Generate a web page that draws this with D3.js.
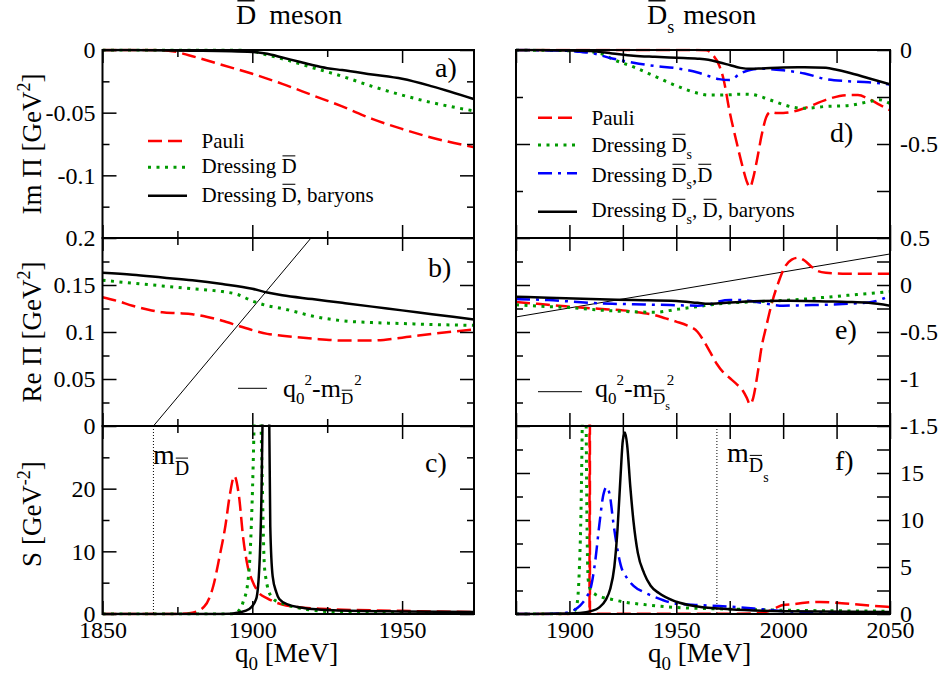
<!DOCTYPE html>
<html>
<head>
<meta charset="utf-8">
<script src="https://cdn.jsdelivr.net/npm/d3@7"></script>
<style>
  body { margin: 0; background: #fff; }
  svg { font-family: "Liberation Serif", "DejaVu Serif", serif; }
</style>
</head>
<body>
<svg id="chart" width="942" height="684"></svg>
<script>
// ---- data (q0 in MeV) ----
// D-bar meson, panel a: Im Pi [GeV^2]
const imPauliD = [[1850,0],[1865,0],[1872,-0.0005],[1880,-0.005],[1890,-0.012],[1900,-0.019],[1910,-0.027],[1920,-0.036],[1930,-0.045],[1940,-0.055],[1950,-0.063],[1960,-0.070],[1975,-0.078]];
const imDressD = [[1850,0],[1895,0],[1900,-0.001],[1905,-0.004],[1910,-0.007],[1920,-0.014],[1930,-0.021],[1940,-0.029],[1950,-0.036],[1960,-0.042],[1975,-0.049]];
const imFullD = [[1850,0],[1880,-0.0005],[1900,-0.0015],[1905,-0.003],[1910,-0.006],[1915,-0.009],[1920,-0.012],[1925,-0.0145],[1930,-0.016],[1940,-0.0195],[1950,-0.023],[1960,-0.029],[1975,-0.040]];
// panel b: Re Pi [GeV^2]
const rePauliD = [[1850,0.137],[1855,0.133],[1860,0.128],[1865,0.124],[1870,0.121],[1875,0.120],[1880,0.119],[1885,0.116],[1890,0.112],[1895,0.107],[1900,0.102],[1905,0.098],[1910,0.096],[1920,0.093],[1930,0.091],[1940,0.091],[1950,0.094],[1960,0.098],[1975,0.103]];
const reDressD = [[1850,0.155],[1860,0.152],[1870,0.149],[1880,0.146],[1890,0.143],[1895,0.140],[1900,0.133],[1905,0.128],[1910,0.125],[1915,0.121],[1920,0.117],[1930,0.112],[1940,0.110],[1950,0.109],[1960,0.108],[1975,0.107]];
const reFullD = [[1850,0.163],[1860,0.161],[1870,0.158],[1880,0.155],[1890,0.151],[1900,0.146],[1905,0.142],[1910,0.139],[1920,0.135],[1930,0.131],[1940,0.127],[1950,0.123],[1960,0.119],[1975,0.113]];
const freeD = [[1867,0],[1919.6,0.2]];
// panel c: S [GeV^-2]
const sPauliD = [[1850,0],[1875,0],[1880,0.2],[1884,1.2],[1887,4.5],[1889,9],[1891,14],[1892.5,19],[1894,22],[1895.5,19],[1897,12],[1898.5,7.5],[1900,5.3],[1902,3.5],[1905,2.5],[1910,1.5],[1915,1.1],[1925,0.8],[1950,0.5],[1975,0.3]];
const sDressD = [[1850,0],[1893,0],[1895,0.3],[1897,2],[1898.5,5],[1899.5,12],[1900.3,24],[1901,40],[1901.7,60],[1902.5,40],[1903.2,24],[1904,8],[1904.6,5.5],[1905,4.5],[1907,2.4],[1910,1.7],[1915,1.0],[1920,0.6],[1930,0.3],[1975,0.1]];
const sFullD = [[1850,0],[1890,0],[1896,0.3],[1899,0.8],[1901.3,2.4],[1902.4,8],[1903.1,20],[1903.7,40],[1904.6,80],[1905.5,40],[1906,14],[1906.8,6],[1908,3.5],[1909,2.4],[1912,1.5],[1916,1.05],[1920,0.8],[1927,0.6],[1950,0.4],[1975,0.3]];
const massD = 1867;

// D_s-bar meson, panel d: Im Pi
const imPauliDs = [[1875,0],[1900,0],[1920,0],[1940,0],[1960,0],[1964,-0.002],[1967,-0.025],[1970,-0.08],[1972,-0.15],[1975,-0.33],[1978,-0.48],[1981,-0.62],[1983,-0.7],[1984.5,-0.73],[1986,-0.68],[1988,-0.57],[1990,-0.45],[1992,-0.36],[1994,-0.33],[1997,-0.335],[2000,-0.335],[2010,-0.31],[2020,-0.265],[2030,-0.24],[2035,-0.24],[2040,-0.26],[2045,-0.29],[2050,-0.32]];
const imDressDs = [[1875,0],[1890,-0.002],[1900,-0.004],[1905,-0.006],[1910,-0.01],[1915,-0.02],[1920,-0.048],[1930,-0.09],[1940,-0.14],[1950,-0.19],[1960,-0.23],[1965,-0.24],[1970,-0.24],[1975,-0.238],[1980,-0.235],[1985,-0.236],[1990,-0.25],[1995,-0.27],[2000,-0.29],[2005,-0.305],[2010,-0.31],[2020,-0.3],[2030,-0.296],[2040,-0.275],[2045,-0.265],[2050,-0.285]];
const imDress2Ds = [[1875,0],[1890,-0.002],[1900,-0.005],[1905,-0.01],[1910,-0.016],[1920,-0.045],[1930,-0.068],[1940,-0.085],[1950,-0.097],[1960,-0.12],[1965,-0.138],[1970,-0.155],[1975,-0.16],[1980,-0.125],[1985,-0.105],[1990,-0.1],[2000,-0.108],[2010,-0.125],[2020,-0.155],[2030,-0.166],[2040,-0.172],[2050,-0.183]];
const imFullDs = [[1875,0],[1900,-0.002],[1910,-0.006],[1920,-0.018],[1930,-0.03],[1940,-0.036],[1950,-0.041],[1960,-0.046],[1965,-0.052],[1970,-0.065],[1975,-0.08],[1980,-0.095],[1985,-0.1],[1990,-0.098],[2000,-0.093],[2010,-0.092],[2020,-0.095],[2025,-0.105],[2030,-0.118],[2040,-0.15],[2050,-0.183]];
// panel e: Re Pi
const rePauliDs = [[1875,-0.18],[1885,-0.2],[1895,-0.22],[1905,-0.24],[1915,-0.255],[1925,-0.27],[1935,-0.3],[1940,-0.32],[1945,-0.355],[1950,-0.39],[1955,-0.43],[1960,-0.5],[1963,-0.6],[1966,-0.72],[1969,-0.84],[1972,-0.93],[1975,-0.99],[1978,-1.05],[1981,-1.12],[1983,-1.2],[1984.5,-1.27],[1986,-1.2],[1988,-0.95],[1990,-0.65],[1992,-0.45],[1995,-0.17],[1998,0.04],[2001,0.2],[2004,0.27],[2007,0.29],[2010,0.26],[2013,0.2],[2016,0.15],[2020,0.13],[2030,0.12],[2040,0.12],[2050,0.12]];
const reDressDs = [[1875,-0.21],[1890,-0.23],[1900,-0.24],[1910,-0.26],[1920,-0.275],[1930,-0.285],[1940,-0.29],[1950,-0.26],[1960,-0.23],[1970,-0.2],[1980,-0.185],[1990,-0.175],[2000,-0.165],[2010,-0.15],[2020,-0.13],[2030,-0.11],[2040,-0.09],[2050,-0.07]];
const reDress2Ds = [[1875,-0.15],[1890,-0.16],[1900,-0.175],[1910,-0.19],[1920,-0.2],[1930,-0.205],[1940,-0.21],[1950,-0.215],[1960,-0.22],[1965,-0.21],[1970,-0.175],[1975,-0.16],[1980,-0.16],[1985,-0.17],[1990,-0.19],[1995,-0.21],[2000,-0.22],[2010,-0.215],[2020,-0.21],[2030,-0.2],[2040,-0.185],[2045,-0.16],[2050,-0.11]];
const reFullDs = [[1875,-0.125],[1890,-0.135],[1910,-0.15],[1930,-0.16],[1950,-0.17],[1960,-0.19],[1965,-0.2],[1970,-0.195],[1980,-0.18],[1990,-0.17],[2000,-0.168],[2010,-0.17],[2020,-0.175],[2030,-0.18],[2040,-0.19],[2050,-0.22]];
const freeDs = [[1875,-0.34],[2050,0.33]];
// panel f: S
const sPauliDs = [[1875,0],[1909.4,0.02],[1909.5,400],[1909.6,0.02],[1960,0.02],[1985,0.05],[1993,0.3],[1997,0.7],[2000,0.95],[2005,1.05],[2010,1.2],[2017,1.28],[2025,1.2],[2035,1.0],[2050,0.75]];
const sDressDs = [[1875,0],[1895,0],[1900,0.05],[1902,0.2],[1903.5,1],[1904.5,4],[1905.5,12],[1906.5,30],[1907,40],[1907.5,30],[1908.3,8],[1908.8,3.6],[1910,2.5],[1912,2.1],[1915,1.8],[1920,1.55],[1925,1.3],[1935,1.0],[1950,0.7],[1970,0.55],[1990,0.45],[2000,0.4],[2020,0.35],[2050,0.3]];
const sDress2Ds = [[1875,0],[1890,0],[1898,0.1],[1902,0.4],[1905,0.9],[1908,1.8],[1910,2.8],[1912,5.5],[1914,9.5],[1915.8,12.6],[1917.4,13.5],[1919,12.5],[1920.5,9.8],[1922,7.5],[1924,5.2],[1927,3.8],[1930,3.0],[1935,2.3],[1940,1.8],[1950,1.1],[1960,0.95],[1970,0.85],[1980,0.7],[1990,0.5],[2000,0.3],[2010,0.2],[2030,0.15],[2050,0.15]];
const sFullDs = [[1875,0],[1900,0.05],[1905,0.1],[1910,0.3],[1914,0.7],[1917,1.5],[1919,2.6],[1921,5],[1922.5,9],[1924,15],[1925,18.5],[1926,19.3],[1927,18],[1928.5,13.5],[1930,9.8],[1932,6.5],[1935,4.3],[1938,3],[1942,2.2],[1950,1.3],[1960,0.8],[1975,0.5],[2000,0.3],[2050,0.2]];
const massDs = 1969;

// tick values
const xTicksLeft = [1850, 1900, 1950], xMinorLeft = [1875, 1925];
const xTicksRight = [1900, 1950, 2000, 2050], xMinorRight = [1875, 1925, 1975, 2025];

// ---- layout ----
const svg = d3.select("#chart");
const FONT = "'Liberation Serif', 'DejaVu Serif', serif";
const rows = [[50, 238], [238, 426], [426, 614]];
const colL = [102.5, 474], colR = [516, 890];

const st = {
  pauli: {stroke: "#ff0000", width: 2.5, dash: "14,6"},
  dress: {stroke: "#009a00", width: 3, dash: "3,5.5"},
  dress2: {stroke: "#0000ff", width: 2.5, dash: "14,6,3,6"},
  full: {stroke: "#000000", width: 2.5, dash: null},
  free: {stroke: "#000000", width: 1, dash: null},
  mass: {stroke: "#000000", width: 1, dash: "1,2"}
};

function styled(sel, s) {
  sel.attr("fill", "none").attr("stroke", s.stroke).attr("stroke-width", s.width);
  if (s.dash) sel.attr("stroke-dasharray", s.dash);
  return sel;
}

// text with sub/superscripts and overbars
function rich(g, x, y, size, parts, anchor) {
  const t = g.append("text").attr("x", x).attr("y", y).attr("font-size", size)
    .attr("font-family", FONT).attr("fill", "#000").style("white-space", "pre");
  if (anchor) t.attr("text-anchor", anchor);
  let cur = 0, idx = 0;
  const bars = [];
  parts.forEach(p => {
    const sh = p.sh || 0;
    const ts = t.append("tspan").text(p.t);
    if (p.sz) ts.attr("font-size", p.sz);
    if (sh !== cur) ts.attr("dy", sh - cur);
    if (p.dx) ts.attr("dx", p.dx);
    cur = sh;
    if (p.bar) bars.push({i: idx, sh, sz: p.sz || size});
    idx += p.t.length;
  });
  bars.forEach(b => {
    const e = t.node().getExtentOfChar(b.i);
    const yy = y + b.sh - b.sz * 0.83;
    g.append("line").attr("x1", e.x + b.sz * 0.05).attr("x2", e.x + e.width - b.sz * 0.06)
      .attr("y1", yy).attr("y2", yy).attr("stroke", "#000").attr("stroke-width", Math.max(1, b.sz * 0.05));
  });
  return t;
}

function axis(g, gen, tr, values, len, labelled, pad) {
  gen.tickValues(values).tickSize(-len).tickSizeOuter(0).tickPadding(pad || 7)
    .tickFormat(labelled ? (d => String(d)) : "");
  const ag = g.append("g").attr("transform", tr).call(gen);
  ag.attr("font-family", FONT).attr("font-size", 24);
  ag.select(".domain").remove();
  ag.selectAll("line").attr("stroke", "#000").attr("stroke-width", 1.5);
  ag.selectAll("text").attr("fill", "#000");
}

function panel(p) {
  const [x0, x1] = p.col, [y0, y1] = rows[p.row];
  const x = d3.scaleLinear().domain(p.xDomain).range([x0, x1]);
  const y = d3.scaleLinear().domain(p.yDomain).range([y1, y0]);
  const g = svg.append("g");
  const clipId = "clip-" + p.name;
  svg.append("clipPath").attr("id", clipId).append("rect")
    .attr("x", x0).attr("y", y0 - 1.5).attr("width", x1 - x0).attr("height", y1 - y0 + 3);
  const line = d3.line().x(d => x(d[0])).y(d => y(d[1])).curve(d3.curveMonotoneX);
  const cg = g.append("g").attr("clip-path", `url(#${clipId})`);
  if (p.mass) {
    styled(cg.append("line"), st.mass)
      .attr("x1", x(p.mass)).attr("x2", x(p.mass)).attr("y1", y0).attr("y2", y1);
  }
  p.series.forEach(s => {
    styled(cg.append("path").datum(s.data), s.style).attr("d", line);
  });

  // ticks, all pointing inwards
  const right = p.col === colR;
  const xMaj = right ? xTicksRight : xTicksLeft, xMin = right ? xMinorRight : xMinorLeft;
  const xMinLen = right ? 13 : 7;
  axis(g, d3.axisBottom(x), `translate(0,${y1})`, xMaj, 13, p.row === 2, 7);
  axis(g, d3.axisBottom(x), `translate(0,${y1})`, xMin, xMinLen, false);
  axis(g, d3.axisTop(x), `translate(0,${y0})`, xMaj, 13, false);
  axis(g, d3.axisTop(x), `translate(0,${y0})`, xMin, xMinLen, false);
  axis(g, d3.axisLeft(y), `translate(${x0},0)`, p.yMajor, 14, !right, 7);
  axis(g, d3.axisLeft(y), `translate(${x0},0)`, p.yMinor, 7, false);
  axis(g, d3.axisRight(y), `translate(${x1},0)`, p.yMajor, right ? 13 : 14, right, 10);
  axis(g, d3.axisRight(y), `translate(${x1},0)`, p.yMinor, right ? 13 : 7, false);

  g.append("rect").attr("x", x0).attr("y", y0).attr("width", x1 - x0).attr("height", y1 - y0)
    .attr("fill", "none").attr("stroke", "#000").attr("stroke-width", 2);
  g.append("text").attr("x", p.tag[1]).attr("y", p.tag[2]).attr("font-size", 28)
    .attr("font-family", FONT).text(p.tag[0]);
  return g;
}

const xDomL = [1850, 1974], xDomR = [1875, 2050];

panel({name: "a", col: colL, row: 0, xDomain: xDomL, yDomain: [-0.15, 0],
  yMajor: [0, -0.05, -0.1], yMinor: [-0.025, -0.075, -0.125], tag: ["a)", 435, 77],
  series: [{data: imPauliD, style: st.pauli}, {data: imDressD, style: st.dress}, {data: imFullD, style: st.full}]});
panel({name: "b", col: colL, row: 1, xDomain: xDomL, yDomain: [0, 0.2],
  yMajor: [0.2, 0.15, 0.1, 0.05, 0], yMinor: [0.175, 0.125, 0.075, 0.025], tag: ["b)", 428, 277],
  series: [{data: freeD, style: st.free}, {data: rePauliD, style: st.pauli}, {data: reDressD, style: st.dress}, {data: reFullD, style: st.full}]});
panel({name: "c", col: colL, row: 2, xDomain: xDomL, yDomain: [0, 30], mass: massD,
  yMajor: [0, 10, 20], yMinor: [5, 15, 25], tag: ["c)", 425, 472],
  series: [{data: sPauliD, style: st.pauli}, {data: sDressD, style: st.dress}, {data: sFullD, style: st.full}]});
panel({name: "d", col: colR, row: 0, xDomain: xDomR, yDomain: [-1, 0],
  yMajor: [0, -0.5], yMinor: [-0.25, -0.75], tag: ["d)", 830, 142],
  series: [{data: imPauliDs, style: st.pauli}, {data: imDressDs, style: st.dress}, {data: imDress2Ds, style: st.dress2}, {data: imFullDs, style: st.full}]});
panel({name: "e", col: colR, row: 1, xDomain: xDomR, yDomain: [-1.5, 0.5],
  yMajor: [0.5, 0, -0.5, -1, -1.5], yMinor: [0.25, -0.25, -0.75, -1.25], tag: ["e)", 835, 339],
  series: [{data: freeDs, style: st.free}, {data: rePauliDs, style: st.pauli}, {data: reDressDs, style: st.dress}, {data: reDress2Ds, style: st.dress2}, {data: reFullDs, style: st.full}]});
panel({name: "f", col: colR, row: 2, xDomain: xDomR, yDomain: [0, 20], mass: massDs,
  yMajor: [0, 5, 10, 15], yMinor: [2.5, 7.5, 12.5, 17.5], tag: ["f)", 835, 470],
  series: [{data: sPauliDs, style: st.pauli}, {data: sDressDs, style: st.dress}, {data: sDress2Ds, style: st.dress2}, {data: sFullDs, style: st.full}]});

// ---- legends ----
const ann = svg.append("g");
function legendLine(x1, x2, y, s) {
  styled(ann.append("line"), s).attr("x1", x1).attr("x2", x2).attr("y1", y).attr("y2", y);
}
// panel a
legendLine(148, 187, 141, st.pauli);
rich(ann, 201.5, 148.3, 21, [{t: "Pauli"}]);
legendLine(148, 187, 167.3, st.dress);
rich(ann, 201.5, 173.3, 21, [{t: "Dressing "}, {t: "D", bar: true}]);
legendLine(148, 187, 195.7, st.full);
rich(ann, 201.5, 201.7, 21, [{t: "Dressing "}, {t: "D", bar: true}, {t: ", baryons"}]);
// panel d
legendLine(538, 577, 117.7, st.pauli);
rich(ann, 591.5, 125, 21, [{t: "Pauli"}]);
legendLine(538, 577, 145, st.dress);
rich(ann, 591.5, 151.7, 21, [{t: "Dressing "}, {t: "D", bar: true}, {t: "s", sz: 14, sh: 7}]);
legendLine(538, 577, 173.3, st.dress2);
rich(ann, 591.5, 181.7, 21, [{t: "Dressing "}, {t: "D", bar: true}, {t: "s", sz: 14, sh: 7}, {t: ",", sh: 0}, {t: "D", bar: true}]);
legendLine(538, 577, 211.7, st.full);
rich(ann, 591.5, 216.7, 21, [{t: "Dressing "}, {t: "D", bar: true}, {t: "s", sz: 14, sh: 7}, {t: ", ", sh: 0}, {t: "D", bar: true}, {t: ", baryons"}]);
// panel b
legendLine(238, 267, 388.3, st.free);
rich(ann, 283, 397.3, 26, [{t: "q"}, {t: "0", sz: 17, sh: 7}, {t: "2", sz: 15, sh: -12}, {t: "-m", sh: 0},
  {t: "D", sz: 17, sh: 7, bar: true}, {t: "2", sz: 15, sh: -12, dx: 1}]);
// panel e
legendLine(538, 582, 391.7, st.free);
rich(ann, 595, 397.3, 26, [{t: "q"}, {t: "0", sz: 17, sh: 7}, {t: "2", sz: 15, sh: -12}, {t: "-m", sh: 0},
  {t: "D", sz: 17, sh: 7, bar: true}, {t: "s", sz: 12, sh: 13}, {t: "2", sz: 15, sh: -12, dx: -3}]);
// mass labels
rich(ann, 153, 463.7, 28, [{t: "m"}, {t: "D", sz: 20, sh: 11, bar: true}]);
rich(ann, 727, 462, 28, [{t: "m"}, {t: "D", sz: 20, sh: 10, bar: true}, {t: "s", sz: 14, sh: 20}]);

// ---- titles and axis labels ----
rich(ann, 236, 24, 28, [{t: "D", bar: true}, {t: " meson", dx: 6}]);
rich(ann, 647, 24, 28, [{t: "D", bar: true}, {t: "s", sz: 18, sh: 9}, {t: " meson", sh: 0, dx: 2}]);
rich(ann, 235, 662, 27, [{t: "q"}, {t: "0", sz: 19, sh: 8}, {t: " [MeV]", sh: 0}]);
rich(ann, 648, 662, 27, [{t: "q"}, {t: "0", sz: 19, sh: 8}, {t: " [MeV]", sh: 0}]);

function yLabel(cy, parts) {
  const g = ann.append("g").attr("transform", `translate(41,${cy}) rotate(-90)`);
  rich(g, 0, 0, 27, parts, "middle");
}
yLabel(144, [{t: "Im Π [GeV"}, {t: "2", sz: 18, sh: -11}, {t: "]", sh: 0}]);
yLabel(332, [{t: "Re Π [GeV"}, {t: "2", sz: 18, sh: -11}, {t: "]", sh: 0}]);
yLabel(514, [{t: "S [GeV"}, {t: "-2", sz: 18, sh: -11}, {t: "]", sh: 0}]);
</script>
</body>
</html>
